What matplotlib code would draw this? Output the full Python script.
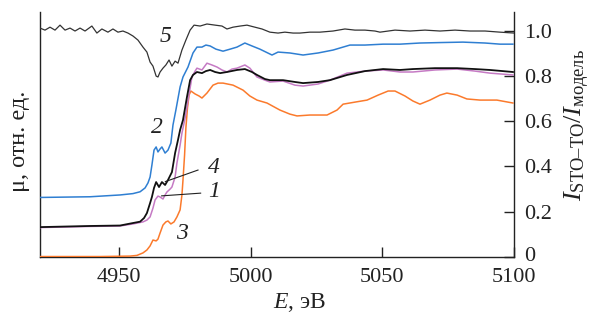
import matplotlib
matplotlib.use("Agg")
import matplotlib.pyplot as plt
from matplotlib.transforms import ScaledTranslation

plt.rcParams['font.family'] = ['Liberation Serif', 'DejaVu Serif']
plt.rcParams['mathtext.fontset'] = 'custom'
plt.rcParams['mathtext.rm'] = 'Liberation Serif'
plt.rcParams['mathtext.it'] = 'Liberation Serif:italic'

# ---- data (E in eV, values in right-axis units) ----
e5 = [4920, 4921.9, 4923.8, 4925.7, 4927.6, 4929.5, 4931.4, 4933.3, 4935.2, 4937.1, 4939.7, 4941.6,
      4943.5, 4945.8, 4947.7, 4949.6, 4951.5, 4953.4, 4955.3, 4957.2, 4959.1, 4960.6, 4961.8, 4962.9,
      4964.1, 4964.8, 4965.6, 4966.7, 4967.8, 4969.0, 4970.1, 4971.3, 4972.4, 4973.9, 4975.4, 4977.0,
      4978.5, 4980.8, 4983.4, 4986.5, 4989.1, 4991.0, 4993.3, 4996.0, 4998.6, 5001.6, 5004.3, 5007.3,
      5010.4, 5013.0, 5016.1, 5018.7, 5022.5, 5026.3, 5031.3, 5035.8, 5039.6, 5043.4, 5047.2, 5049.1,
      5054.8, 5060.5, 5066.2, 5071.9, 5077.6, 5083.3, 5089.0, 5094.7, 5100]
v5 = [1.011, 1.002, 1.015, 1.002, 1.024, 1.002, 1.011, 0.998, 1.011, 0.998, 1.020, 0.989,
      1.007, 0.993, 1.007, 0.993, 0.998, 0.989, 0.976, 0.958, 0.927, 0.905, 0.861, 0.843,
      0.799, 0.795, 0.817, 0.834, 0.848, 0.870, 0.843, 0.865, 0.856, 0.914, 0.958, 1.002,
      1.024, 1.020, 1.029, 1.024, 1.020, 1.007, 1.015, 1.020, 1.024, 1.015, 1.007, 0.993,
      0.989, 0.993, 0.989, 0.989, 0.993, 0.993, 0.998, 1.007, 1.002, 1.002, 0.998, 0.993,
      1.002, 0.998, 1.002, 0.998, 1.002, 0.998, 0.998, 0.993, 0.989]

e2 = [4920, 4939.0, 4950.4, 4955.3, 4958.0, 4959.9, 4961.0, 4961.8, 4962.5, 4963.3, 4964.1, 4964.8,
      4965.6, 4966.3, 4967.5, 4968.6, 4969.7, 4970.5, 4971.6, 4973.2, 4974.3, 4976.2, 4978.1, 4979.6,
      4981.5, 4983.0, 4984.6, 4986.8, 4989.5, 4992.2, 4994.8, 4997.8, 5000.5, 5003.5, 5005.8, 5008.1,
      5010.4, 5014.9, 5019.9, 5025.6, 5031.3, 5037.7, 5043.4, 5050.3, 5056.7, 5064.3, 5071.9, 5080.6,
      5089.0, 5094.7, 5099.6]
v2 = [0.263, 0.266, 0.274, 0.280, 0.288, 0.305, 0.327, 0.353, 0.406, 0.472, 0.486, 0.464,
      0.477, 0.486, 0.459, 0.472, 0.503, 0.583, 0.649, 0.751, 0.795, 0.839, 0.901, 0.927,
      0.927, 0.936, 0.932, 0.918, 0.909, 0.918, 0.927, 0.945, 0.932, 0.918, 0.905, 0.892,
      0.905, 0.901, 0.892, 0.901, 0.914, 0.936, 0.936, 0.940, 0.940, 0.945, 0.947, 0.949,
      0.945, 0.940, 0.940]

e4 = [4920, 4939.0, 4950.4, 4955.3, 4958.0, 4959.5, 4960.6, 4961.8, 4962.5, 4963.3, 4964.1, 4965.2,
      4966.3, 4967.5, 4968.6, 4970.1, 4971.3, 4972.4, 4973.2, 4974.3, 4975.8, 4977.0, 4978.1, 4979.6,
      4981.5, 4983.0, 4984.6, 4986.5, 4988.4, 4991.0, 4994.8, 4997.8, 5000.5, 5002.4, 5005.4, 5007.3,
      5012.3, 5016.8, 5019.9, 5025.6, 5030.1, 5036.6, 5043.4, 5050.3, 5056.7, 5061.6, 5070.0, 5078.4,
      5085.2, 5090.9, 5099.6]
v4 = [0.132, 0.137, 0.139, 0.150, 0.156, 0.172, 0.194, 0.238, 0.265, 0.305, 0.331, 0.309,
      0.331, 0.318, 0.340, 0.375, 0.459, 0.517, 0.561, 0.605, 0.706, 0.781, 0.804, 0.817,
      0.812, 0.821, 0.826, 0.817, 0.812, 0.817, 0.826, 0.830, 0.817, 0.804, 0.786, 0.781,
      0.781, 0.773, 0.768, 0.773, 0.781, 0.804, 0.821, 0.830, 0.826, 0.830, 0.834, 0.834,
      0.830, 0.826, 0.817]

e1 = [4920, 4939.0, 4950.4, 4955.3, 4959.1, 4960.6, 4961.8, 4962.9, 4963.7, 4964.8, 4965.6, 4966.7,
      4967.5, 4968.2, 4969.4, 4970.1, 4971.3, 4972.0, 4973.2, 4973.9, 4975.1, 4975.8, 4977.0, 4977.7,
      4978.9, 4979.6, 4981.5, 4983.4, 4985.3, 4987.2, 4989.1, 4991.0, 4992.9, 4994.8, 4997.8, 4999.7,
      5002.4, 5005.4, 5007.3, 5012.3, 5016.8, 5019.9, 5025.6, 5030.1, 5036.6, 5043.4, 5050.3, 5056.7,
      5061.6, 5070.0, 5078.4, 5085.2, 5090.9, 5099.6]
v1 = [0.130, 0.135, 0.137, 0.146, 0.155, 0.163, 0.177, 0.216, 0.252, 0.269, 0.265, 0.256,
      0.274, 0.287, 0.300, 0.309, 0.353, 0.415, 0.494, 0.547, 0.614, 0.662, 0.746, 0.795,
      0.821, 0.834, 0.826, 0.856, 0.848, 0.839, 0.826, 0.817, 0.830, 0.834, 0.848, 0.834,
      0.795, 0.781, 0.773, 0.777, 0.759, 0.755, 0.764, 0.781, 0.812, 0.821, 0.826, 0.817,
      0.817, 0.826, 0.830, 0.821, 0.812, 0.804]

e3 = [4920, 4942.8, 4954.2, 4956.8, 4959.1, 4960.6, 4961.8, 4962.9, 4964.1, 4964.8, 4965.6, 4966.7,
      4967.8, 4968.6, 4969.7, 4970.9, 4972.0, 4973.2, 4973.9, 4974.3, 4974.9, 4975.4, 4976.0, 4976.6,
      4977.3, 4978.9, 4980.4, 4981.5, 4983.4, 4985.7, 4987.6, 4989.5, 4993.3, 4997.1, 4999.7, 5002.4,
      5006.2, 5011.1, 5014.9, 5017.6, 5022.5, 5029.0, 5032.8, 5035.1, 5039.6, 5044.2, 5048.4, 5052.2,
      5054.8, 5058.6, 5061.6, 5064.3, 5068.1, 5071.9, 5074.5, 5078.4, 5082.1, 5087.1, 5093.5, 5099.6]
v3 = [0.002, 0.002, 0.004, 0.007, 0.018, 0.031, 0.049, 0.075, 0.071, 0.079, 0.106, 0.141,
      0.155, 0.159, 0.146, 0.155, 0.177, 0.208, 0.274, 0.340, 0.450, 0.570, 0.658, 0.715,
      0.733, 0.720, 0.711, 0.702, 0.724, 0.759, 0.768, 0.768, 0.759, 0.737, 0.711, 0.693,
      0.680, 0.649, 0.631, 0.623, 0.627, 0.627, 0.649, 0.675, 0.684, 0.693, 0.715, 0.733,
      0.733, 0.711, 0.689, 0.675, 0.693, 0.715, 0.724, 0.715, 0.698, 0.693, 0.693, 0.680]

xticks = [4950, 5000, 5050, 5100]
yticks = [0, 0.2, 0.4, 0.6, 0.8, 1.0]
ytick_labels = ["0", "0.2", "0.4", "0.6", "0.8", "1.0"]

# ---- figure ----
fig = plt.figure(figsize=(5.95, 3.2), dpi=100)
ax = fig.add_axes([40/595, 63/320, 474/595, 245/320])

ax.plot(e5, v5, color='#333333', lw=0.9, zorder=3)
ax.plot(e2, v2, color='#2f7fd2', lw=1.1, zorder=3)
ax.plot(e3, v3, color='#fb7a2c', lw=1.1, zorder=3)
ax.plot(e1, v1, color='#c57ac4', lw=1.1, zorder=3)
ax.plot(e4, v4, color='#111111', lw=1.3, zorder=4)

ax.set_xlim(4920, 5100)
ax.set_ylim(0, 1.082)

ax.spines['top'].set_visible(False)
for s in ('left', 'right', 'bottom'):
    ax.spines[s].set_linewidth(1.0)
    ax.spines[s].set_color('#222222')

ax.yaxis.tick_right()
ax.set_yticks(yticks)
ax.set_yticklabels(ytick_labels)
ax.set_xticks(xticks)
ax.tick_params(axis='y', which='both', direction='in', length=7, width=1.0,
               labelsize=16, pad=7, left=False, right=True, colors='#222222')
ax.tick_params(axis='x', direction='in', length=7, width=1.0, labelsize=16, pad=8,
               colors='#222222')
# lift the "0" label slightly so it clears "5100"
zero = ax.get_yticklabels()[0]
zero.set_transform(zero.get_transform() + ScaledTranslation(0, 3/100, fig.dpi_scale_trans))

# curve labels
lab = dict(fontsize=17, style='italic', ha='center', va='center', color='#222222')
ax.text(4967.5, 0.975, '5', **lab)
ax.text(4964.4, 0.574, '2', **lab)
ax.text(4986.0, 0.395, '4', **lab)
ax.text(4986.0, 0.288, '1', **lab)
ax.text(4973.9, 0.103, '3', **lab)
ax.plot([4980.0, 4967.6], [0.384, 0.333], color='#222222', lw=0.8, zorder=5)
ax.plot([4981.0, 4966.2], [0.282, 0.270], color='#222222', lw=0.8, zorder=5)

# axis labels
fig.text(20/595, 1 - 141/320, 'μ, отн. ед.', rotation=90, ha='center', va='center',
         fontsize=17.5, color='#222222')
fig.text(577/595, 1 - 125/320, r'$I_{\mathrm{STO–TO}}/I_{\mathrm{модель}}$', rotation=90,
         ha='center', va='center', fontsize=19, color='#222222')
fig.text(300/595, 1 - 303/320, r'$E$, эВ', ha='center', va='center', fontsize=17,
         color='#222222')

fig.savefig('out.png', dpi=100)
